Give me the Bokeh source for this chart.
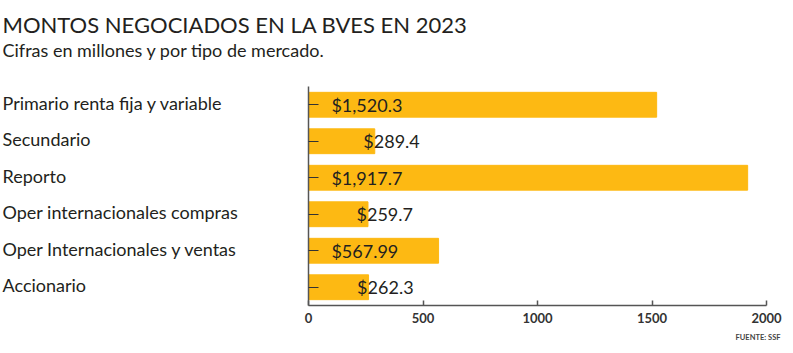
from bokeh.plotting import figure
from bokeh.models import ColumnDataSource, Range1d, FixedTicker, Title
from bokeh.layouts import column, row
from bokeh.core.properties import value
from bokeh.embed import file_html
from bokeh.resources import INLINE

categories = ["Primario renta fija y variable", "Secundario", "Reporto",
              "Oper internacionales compras", "Oper Internacionales y ventas",
              "Accionario"]
values = [1520.3, 289.4, 1917.7, 259.7, 567.99, 262.3]
value_labels = ["$1,520.3", "$289.4", "$1,917.7", "$259.7", "$567.99", "$262.3"]
x_ticks = [0, 500, 1000, 1500, 2000]

title_text = "MONTOS NEGOCIADOS EN LA BVES EN 2023"
subtitle_text = "Cifras en millones y por tipo de mercado."
source_text = "FUENTE: SSF"

BAR = "#FDB913"
INK = "#231F20"
AXIS = "#555555"
FONT = "Lato"

idx = list(range(len(categories)))
# value label starts inside long bars, just before the end of short bars
label_x = [v - 50.0 if v < 400 else 100.0 for v in values]

src = ColumnDataSource(dict(y=idx, v=values, lab=value_labels, lx=label_x,
                            cat=categories))
yr = Range1d(5.5, -0.5)


def clean(f):
    f.outline_line_color = None
    f.grid.grid_line_color = None
    f.background_fill_color = "white"
    f.border_fill_color = "white"


# ---- header ----
head = figure(width=793, height=86, output_backend="svg", toolbar_location=None,
              x_range=Range1d(0, 793), y_range=Range1d(86, 0),
              x_axis_location=None, y_axis_location=None,
              min_border=0)
clean(head)
head.text(x=[2], y=[24], text=[title_text], text_font=value(FONT),
          text_font_size="22px", text_color=INK, text_baseline="middle")
head.text(x=[2], y=[49], text=[subtitle_text], text_font=value(FONT),
          text_font_size="18px", text_color=INK, text_baseline="middle")

# ---- category labels ----
lab = figure(width=300, height=267, output_backend="svg", toolbar_location=None,
             x_range=Range1d(0, 300), y_range=yr,
             x_axis_location=None, y_axis_location=None,
             min_border_left=0, min_border_right=0, min_border_top=0,
             min_border_bottom=48)
clean(lab)
lab.text(x=2, y="y", text="cat", source=src, text_font=value(FONT),
         text_font_size="18px", text_color=INK, text_baseline="middle",
         y_offset=-2)

# ---- bars ----
p = figure(width=493, height=267, output_backend="svg", toolbar_location=None,
           x_range=Range1d(0, 2000), y_range=yr,
           min_border_left=8, min_border_right=27, min_border_top=0,
           min_border_bottom=48)
clean(p)
p.hbar(y="y", right="v", left=0, height=0.68, color=BAR, source=src)
p.text(x="lx", y="y", text="lab", source=src, text_font=value(FONT),
       text_font_size="18px", text_color=INK, text_baseline="middle")

xa = p.xaxis[0]
xa.ticker = FixedTicker(ticks=x_ticks)
xa.axis_line_color = AXIS
xa.axis_line_width = 1.5
xa.major_tick_line_color = AXIS
xa.major_tick_line_width = 1.5
xa.major_tick_in = 5
xa.major_tick_out = 0
xa.minor_tick_line_color = None
xa.major_label_standoff = 7
xa.major_label_text_font = FONT
xa.major_label_text_font_style = "bold"
xa.major_label_text_font_size = "13px"
xa.major_label_text_color = "#333333"

ya = p.yaxis[0]
ya.ticker = FixedTicker(ticks=idx)
ya.major_label_overrides = {i: "" for i in idx}
ya.major_label_standoff = 0
ya.axis_line_color = AXIS
ya.axis_line_width = 1.5
ya.major_tick_line_color = "#333333"
ya.major_tick_line_width = 1.2
ya.major_tick_in = 10
ya.major_tick_out = 0
ya.minor_tick_line_color = None

p.add_layout(Title(text=source_text, align="right", offset=-14, text_font=FONT,
                   text_font_size="7.5px", text_font_style="bold",
                   text_color="#444444"), "below")

layout = column(head, row(lab, p))
open("out.html", "w").write(file_html(layout, INLINE))
